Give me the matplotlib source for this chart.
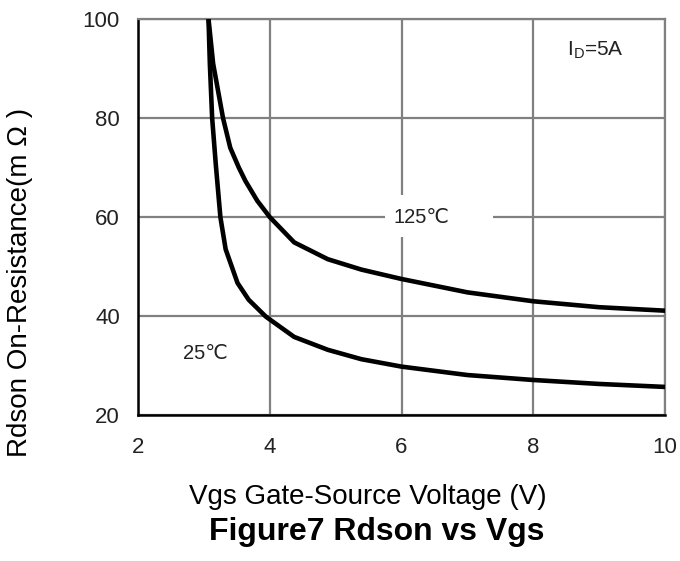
import matplotlib
matplotlib.use("Agg")
import matplotlib.pyplot as plt
from matplotlib.patches import Rectangle

plt.rcParams['font.family'] = ['Liberation Sans', 'DejaVu Sans']

# Rdson (mOhm) vs Vgs (V), ID = 5A
vgs_25 = [3.07, 3.09, 3.125, 3.18, 3.25, 3.33, 3.51, 3.68, 3.94, 4.37,
          4.88, 5.39, 6.0, 7.0, 8.0, 9.0, 10.0]
rds_25 = [100, 91, 80, 70.7, 60, 53.5, 46.7, 43.3, 39.9, 35.8,
          33.2, 31.3, 29.8, 28.1, 27.1, 26.3, 25.7]
vgs_125 = [3.07, 3.14, 3.29, 3.40, 3.53, 3.63, 3.81, 4.0, 4.37, 4.88, 5.39,
           6.0, 7.0, 8.0, 9.0, 10.0]
rds_125 = [100, 91, 80, 74, 70, 67.3, 63.3, 60, 54.9, 51.5, 49.4,
           47.5, 44.8, 43.0, 41.8, 41.1]

xticks = [2, 4, 6, 8, 10]
yticks = [20, 40, 60, 80, 100]

fig = plt.figure(figsize=(6.8, 5.61), dpi=100)
ax = fig.add_axes([0.203, 0.260, 0.775, 0.706])

grey = '#808080'
ax.set_xlim(2, 10)
ax.set_ylim(20, 100)
ax.set_xticks(xticks)
ax.set_yticks(yticks)
ax.grid(True, color=grey, linewidth=1.6, zorder=0)
ax.set_axisbelow(True)
ax.tick_params(length=0, labelsize=16)
ax.tick_params(axis='y', pad=13)
ax.tick_params(axis='x', pad=16)
for lab in ax.get_xticklabels() + ax.get_yticklabels():
    lab.set_color('#222222')

for s in ['left', 'bottom']:
    ax.spines[s].set_color('black')
    ax.spines[s].set_linewidth(1.8)
for s in ['top', 'right']:
    ax.spines[s].set_color(grey)
    ax.spines[s].set_linewidth(1.6)

ax.plot(vgs_25, rds_25, color='black', linewidth=3.3, zorder=3,
        solid_capstyle='butt', solid_joinstyle='round')
ax.plot(vgs_125, rds_125, color='black', linewidth=3.3, zorder=3,
        solid_capstyle='butt', solid_joinstyle='round')

# white patch breaking the grid behind the 125C label
ax.add_patch(Rectangle((5.75, 56.0), 1.64, 8.4, facecolor='white', edgecolor='none', zorder=1))
ax.text(6.3, 60, '125℃', fontsize=14.5, ha='center', va='center', zorder=4, color='#222222')
ax.text(3.03, 32.5, '25℃', fontsize=14.5, ha='center', va='center', zorder=4, color='#222222')
ax.text(8.51, 93.7, r'I$_\mathregular{D}$=5A', fontsize=15, ha='left', va='center',
        zorder=4, color='#222222')

fig.text(0.029, 0.496, 'Rdson On-Resistance(m Ω )', rotation=90, fontsize=20,
         ha='center', va='center')
fig.text(0.541, 0.114, 'Vgs Gate-Source Voltage (V)', fontsize=20, ha='center', va='center')
fig.text(0.554, 0.052, 'Figure7 Rdson vs Vgs', fontsize=23, fontweight='bold',
         ha='center', va='center')

fig.savefig('out.png', dpi=100)
